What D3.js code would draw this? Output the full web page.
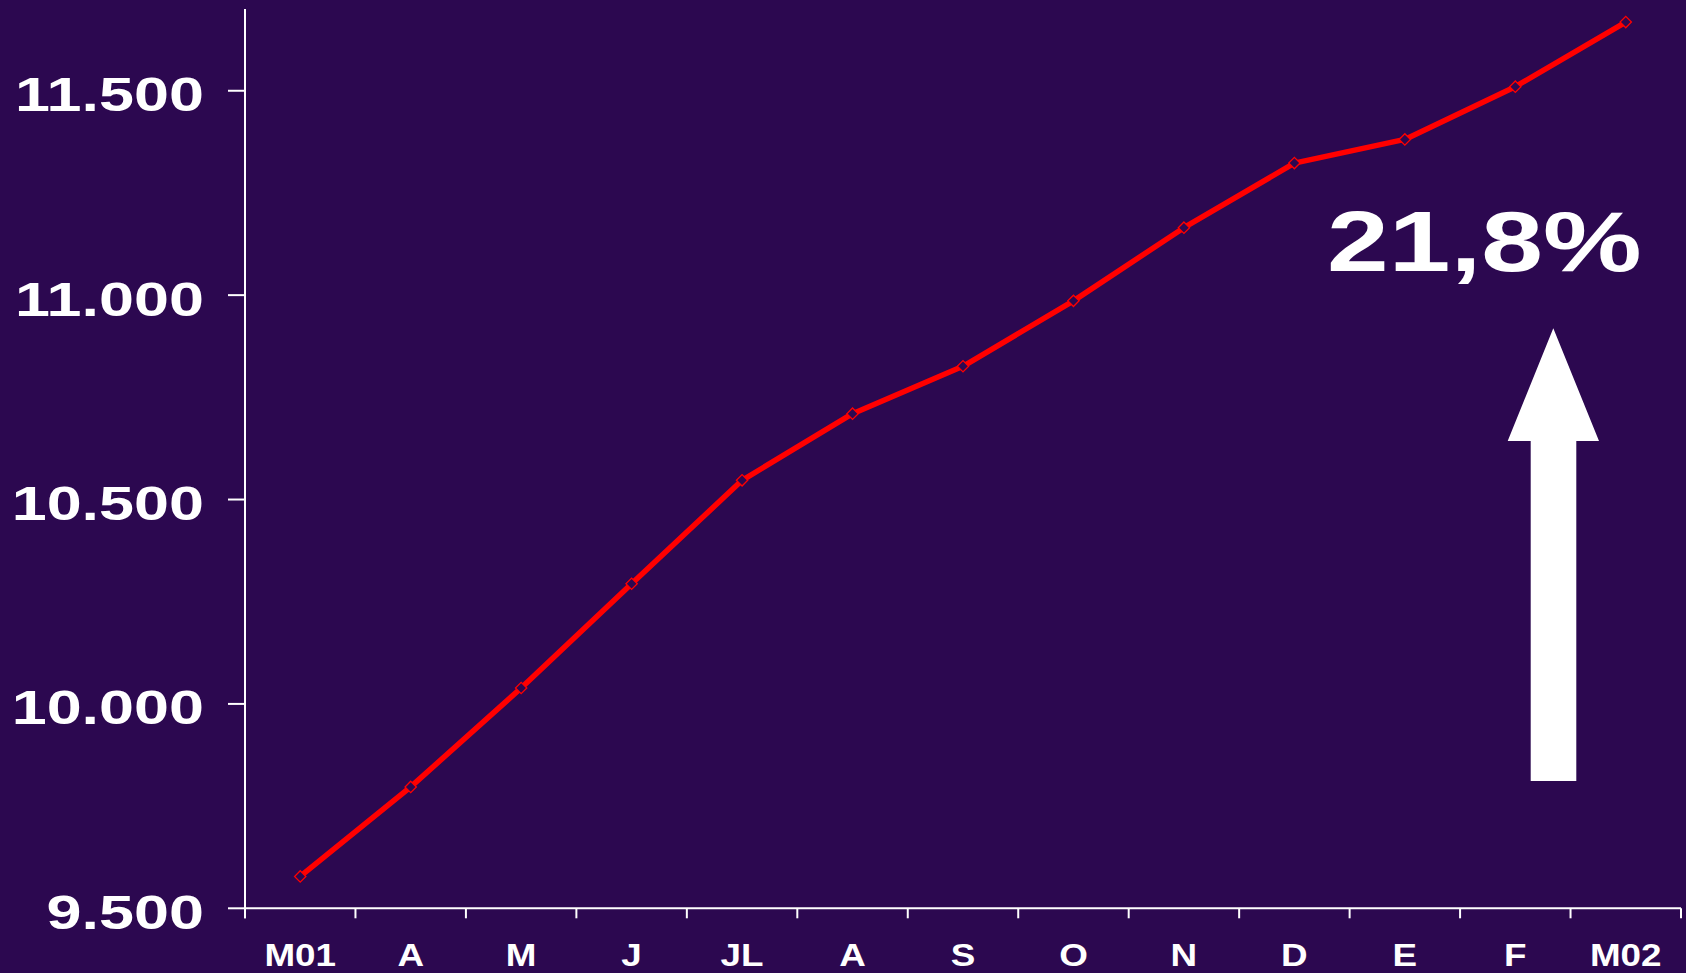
<!DOCTYPE html>
<html>
<head>
<meta charset="utf-8">
<script src="https://cdn.jsdelivr.net/npm/d3@7"></script>
<style>
  html, body { margin: 0; padding: 0; background: #2c0850; }
  svg { display: block; }
</style>
</head>
<body>
<svg id="chart" width="1686" height="973"></svg>
<script>
// ---- data ----
const categories = ["M01", "A", "M", "J", "JL", "A", "S", "O", "N", "D", "E", "F", "M02"];
const values = [9578, 9797, 10039, 10294, 10547, 10710, 10826, 10986, 11165, 11323, 11381, 11510, 11668];
const yTicks = [9500, 10000, 10500, 11000, 11500];
const yTickLabels = ["9.500", "10.000", "10.500", "11.000", "11.500"];
const growthLabel = "21,8%";

// ---- layout ----
const W = 1686, H = 973;
const bg = "#2c0850";
const axisColor = "#ffffff";
const font = "'Liberation Sans', Arial, sans-serif";

const svg = d3.select("#chart");
svg.append("rect").attr("width", W).attr("height", H).attr("fill", bg);

const x = d3.scaleBand()
  .domain(d3.range(categories.length))
  .range([245, 1681])
  .padding(0);

const y = d3.scaleLinear()
  .domain([9500, 11700])
  .range([908.3, 9]);

function stretch(sel, k, anchor, px) {
  sel.each(function() {
    const t = d3.select(this);
    const len = this.getComputedTextLength();
    const L = len * k;
    t.attr("textLength", L).attr("lengthAdjust", "spacingAndGlyphs")
     .attr("text-anchor", "start");
    let xs = px;
    if (anchor === "end") xs = px - L;
    else if (anchor === "middle") xs = px - L / 2;
    t.attr("x", xs);
  });
}

// y axis line
const g = svg.append("g");
g.append("line")
  .attr("x1", x.range()[0]).attr("x2", x.range()[0])
  .attr("y1", y(11700)).attr("y2", y(9500) + 10)
  .attr("stroke", axisColor).attr("stroke-width", 2);

// y ticks
g.selectAll(".ytick").data(yTicks).join("line")
  .attr("x1", x.range()[0] - 17).attr("x2", x.range()[0])
  .attr("y1", d => y(d)).attr("y2", d => y(d))
  .attr("stroke", axisColor).attr("stroke-width", 2);

g.selectAll(".ylab").data(yTicks).join("text")
  .attr("y", d => y(d) + 20.5)
  .attr("fill", "#ffffff")
  .attr("font-family", font)
  .attr("font-weight", "bold")
  .attr("font-size", 48)
  .text((d, i) => yTickLabels[i])
  .call(stretch, 1.31, "end", 204);

// x axis line
g.append("line")
  .attr("x1", x.range()[0]).attr("x2", x.range()[1])
  .attr("y1", y(9500)).attr("y2", y(9500))
  .attr("stroke", axisColor).attr("stroke-width", 2);

// x ticks at band boundaries
const xBounds = d3.range(categories.length + 1).map(i => x.range()[0] + i * x.bandwidth());
g.selectAll(".xtick").data(xBounds).join("line")
  .attr("x1", d => d).attr("x2", d => d)
  .attr("y1", y(9500)).attr("y2", y(9500) + 10)
  .attr("stroke", axisColor).attr("stroke-width", 2);

g.selectAll(".xlab").data(categories).join("text")
  .attr("y", 966)
  .attr("fill", "#ffffff")
  .attr("font-family", font)
  .attr("font-weight", "bold")
  .attr("font-size", 32)
  .text(d => d)
  .each(function(d, i) {
    d3.select(this).call(stretch, 1.15, "middle", x(i) + x.bandwidth() / 2);
  });

// line
const line = d3.line()
  .x((d, i) => x(i) + x.bandwidth() / 2)
  .y(d => y(d));

svg.append("path")
  .datum(values)
  .attr("d", line)
  .attr("fill", "none")
  .attr("stroke", "#ff0000")
  .attr("stroke-width", 5.5)
  .attr("stroke-linejoin", "round");

// diamond markers
const sym = d3.symbol().type(d3.symbolSquare).size(64);
svg.selectAll(".mk").data(values).join("path")
  .attr("d", sym)
  .attr("transform", (d, i) => `translate(${x(i) + x.bandwidth() / 2},${y(d)}) rotate(45)`)
  .attr("fill", bg)
  .attr("stroke", "#ff0000")
  .attr("stroke-width", 1.3);

// annotation: growth label
svg.append("text")
  .attr("y", 270.7)
  .attr("fill", "#ffffff")
  .attr("font-family", font)
  .attr("font-weight", "bold")
  .attr("font-size", 85)
  .text(growthLabel)
  .call(stretch, 1.305, "start", 1327);

// annotation: arrow
const arrow = [
  [1553.3, 328.3], [1599, 441], [1576.3, 441], [1576.3, 781],
  [1530.7, 781], [1530.7, 441], [1507.7, 441]
];
svg.append("path")
  .attr("d", d3.line()(arrow) + "Z")
  .attr("fill", "#ffffff");
</script>
</body>
</html>
